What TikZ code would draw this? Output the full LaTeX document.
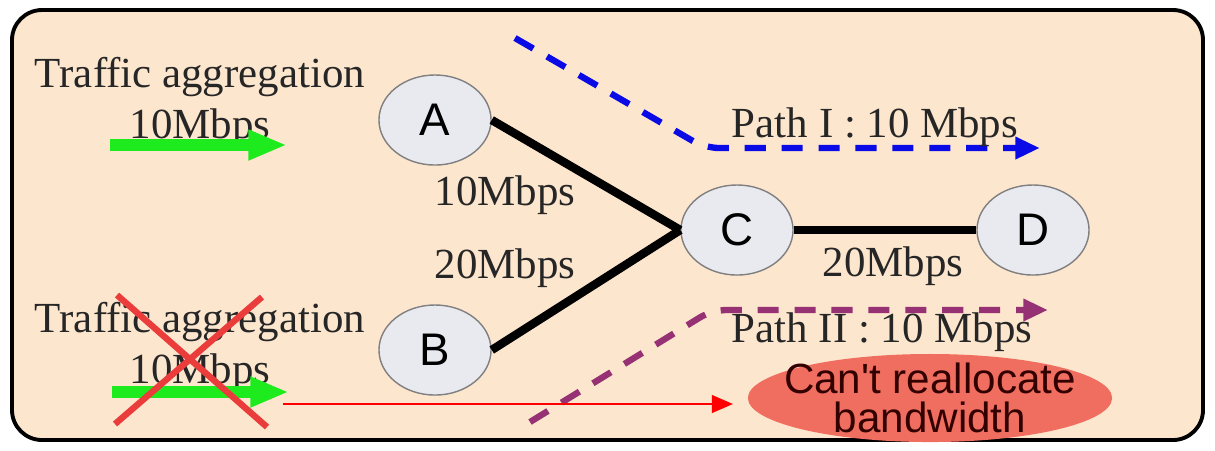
\documentclass[tikz,border=0pt]{standalone}
\usepackage{fontspec}
\setmainfont{Liberation Serif}
\newfontfamily\arialfont{Liberation Sans}
\usetikzlibrary{shapes.geometric,arrows.meta}

\definecolor{peach}{RGB}{253,230,206}
\definecolor{nodegray}{RGB}{233,233,240}
\definecolor{pathblue}{RGB}{10,10,230}
\definecolor{pathpurple}{RGB}{150,50,115}
\definecolor{flowgreen}{RGB}{30,235,30}
\definecolor{crossred}{RGB}{235,60,60}
\definecolor{warnred}{RGB}{240,110,95}

\tikzset{
  station/.style={ellipse, draw=gray, fill=nodegray, minimum width=1.12cm, minimum height=0.9cm, font=\arialfont\fontsize{13}{13}\selectfont},
  rate/.style={font=\fontsize{12.2}{14.5}\selectfont, text=black!85},
  link/.style={line width=2.4pt, black},
  flow/.style={line width=3.4pt, flowgreen, -{Triangle[length=11pt, width=8pt]}},
  route/.style={line width=1.8pt, dash pattern=on 6pt off 4.5pt, -{Triangle[length=7pt, width=6pt]}, rounded corners=4pt},
}

\begin{document}
\begin{tikzpicture}[x=0.01cm, y=-0.01cm, >=stealth]
    \useasboundingbox (0,0) rectangle (1215,450);
    % Background panel
    \draw[line width=1.1pt, fill=peach, rounded corners=0.3cm] (12,10) rectangle (1203,440);
    % Stations
    \node[station] (A) at (435,120) {A};
    \node[station] (B) at (435,350) {B};
    \node[station] (C) at (737,230) {C};
    \node[station] (D) at (1033,230) {D};
    % Links
    \draw[link] (A.east) -- (C.west);
    \draw[link] (B.east) -- (C.west);
    \draw[link] (C) -- (D);
    \node[rate] (rAC) at (505,195) {10Mbps};
    \node[rate] (rBC) at (505,268) {20Mbps};
    \node[rate] (rCD) at (893,266) {20Mbps};
    % Path I
    \coordinate (p1s) at (515,38);
    \coordinate (p1k) at (705,148);
    \coordinate (p1e) at (1040,148);
    \draw[route, pathblue] (p1s) -- (p1k) -- (p1e);
    \node[rate] (p1) at (875,127) {Path I : 10 Mbps};
    % Path II
    \coordinate (p2s) at (530,422);
    \coordinate (p2k) at (712,310);
    \coordinate (p2e) at (1048,310);
    \draw[route, pathpurple] (p2s) -- (p2k) -- (p2e);
    \node[rate] (p2) at (882,332) {Path II : 10 Mbps};
    % Traffic aggregation, top
    \node[rate, align=center] (t1) at (200,102) {Traffic aggregation\\10Mbps};
    \coordinate (g1s) at (110,145);
    \coordinate (g1e) at (287,145);
    \draw[flow] (g1s) -- (g1e);
    % Traffic aggregation, bottom (rejected)
    \node[rate, align=center] (t2) at (200,347) {Traffic aggregation\\10Mbps};
    \coordinate (g2s) at (112,392);
    \coordinate (g2e) at (289,392);
    \draw[flow] (g2s) -- (g2e);
    \draw[line width=1.8pt, crossred] (117,295) -- (267,427);
    \draw[line width=1.8pt, crossred] (262,297) -- (115,424);
    % Warning
    \node[ellipse, fill=warnred, minimum width=3.64cm, minimum height=0.88cm, inner sep=0pt] (W) at (930,398) {};
    \node[align=center, font=\arialfont\fontsize{12}{11}\selectfont, text=black!80!red] (Wt) at (W) {Can't reallocate\\bandwidth};
    \coordinate (r1) at (283,404);
    \coordinate (r2) at (733,404);
    \draw[->, red, line width=0.7pt, >={Triangle[length=6pt, width=5pt]}] (r1) -- (r2);
\end{tikzpicture}
\end{document}
